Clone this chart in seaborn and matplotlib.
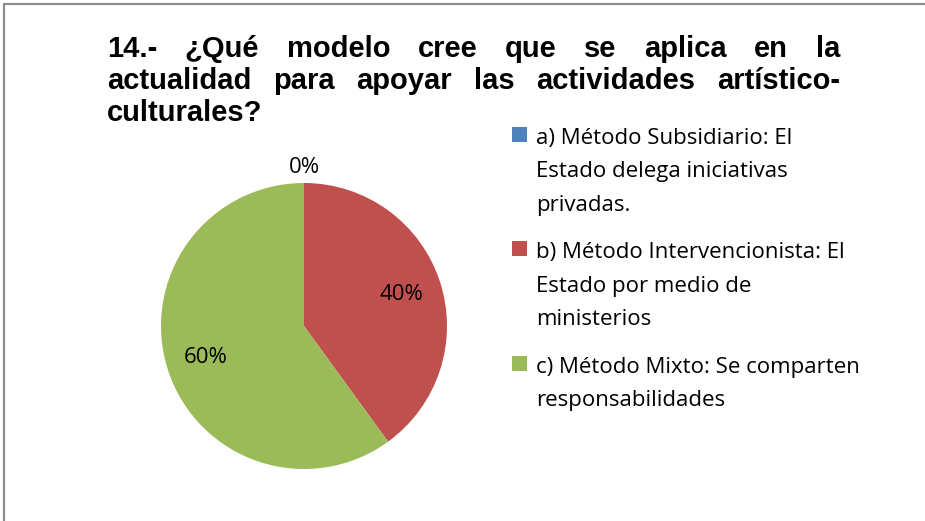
import matplotlib
matplotlib.use("Agg")
import matplotlib.pyplot as plt
from matplotlib.patches import Rectangle
import seaborn as sns
import numpy as np

# Survey results
categories = [
    "a) Método Subsidiario: El\nEstado delega iniciativas\nprivadas.",
    "b) Método Intervencionista: El\nEstado por medio de\nministerios",
    "c) Método Mixto: Se comparten\nresponsabilidades",
]
percentages = [0, 40, 60]
colors = ["#4F81BD", "#C0504D", "#9BBB59"]
title_lines = [
    "14.- ¿Qué modelo cree que se aplica en la",
    "actualidad para apoyar las actividades artístico-",
    "culturales?",
]

sns.set_theme(style="white")
plt.rcParams["font.family"] = ["Open Sans", "DejaVu Sans"]

W, H = 925, 521
fig = plt.figure(figsize=(W / 100, H / 100), dpi=100)
fig.patch.set_facecolor("white")


def fx(px):
    return px / W


def fy(py):
    return 1 - py / H


# chart frame (runs off the right and bottom edges)
fig.patches.append(Rectangle((fx(3.5), fy(H + 20)), 1.2, (H + 20 - 3.5) / H,
                             transform=fig.transFigure, fill=False,
                             edgecolor="#8c8c8c", linewidth=1.6))

# pie
cx, cy, r = 304, 326, 143
ax = fig.add_axes([fx(cx - r), fy(cy + r), 2 * r / W, 2 * r / H])
wedges, texts, autotexts = ax.pie(
    percentages, colors=colors, startangle=90, counterclock=False,
    autopct=lambda p: f"{p:.0f}%", pctdistance=0.72,
    wedgeprops=dict(linewidth=0),
    textprops=dict(fontsize=16, color="black"),
)
ax.set_xlim(-1, 1)
ax.set_ylim(-1, 1)
ax.set_aspect("equal")
ax.axis("off")
for w, t, val in zip(wedges, autotexts, percentages):
    if val == 0:
        ang = np.deg2rad((w.theta1 + w.theta2) / 2)
        t.set_position((1.11 * np.cos(ang), 1.11 * np.sin(ang)))

# justified bold title
title_font = dict(family=["Liberation Sans", "DejaVu Sans"], weight="bold",
                  fontsize=21, color="black")
left, right = 107, 840
baselines = [57, 89, 121]
renderer = fig.canvas.get_renderer()
for i, (line, base) in enumerate(zip(title_lines, baselines)):
    words = line.split(" ")
    justify = i < len(title_lines) - 1
    objs = [fig.text(0, fy(base), wd, va="baseline", ha="left", **title_font)
            for wd in words]
    widths = [o.get_window_extent(renderer).width for o in objs]
    if justify and len(words) > 1:
        gap = (right - left - sum(widths)) / (len(words) - 1)
    else:
        gap = objs[0].get_fontsize() * 0.28
    x = left
    for o, wdt in zip(objs, widths):
        o.set_x(fx(x))
        x += wdt + gap

# legend
y = 144
step, entry_gap = 33.3, 14.5
for label, col in zip(categories, colors):
    fig.patches.append(Rectangle((fx(512), fy(y - 2)), 15 / W, 15 / H,
                                 transform=fig.transFigure,
                                 facecolor=col, edgecolor="none"))
    for ln in label.split("\n"):
        fig.text(fx(536), fy(y), ln, va="baseline", ha="left",
                 fontsize=16, color="black")
        y += step
    y += entry_gap

fig.savefig("out.png", dpi=100)
